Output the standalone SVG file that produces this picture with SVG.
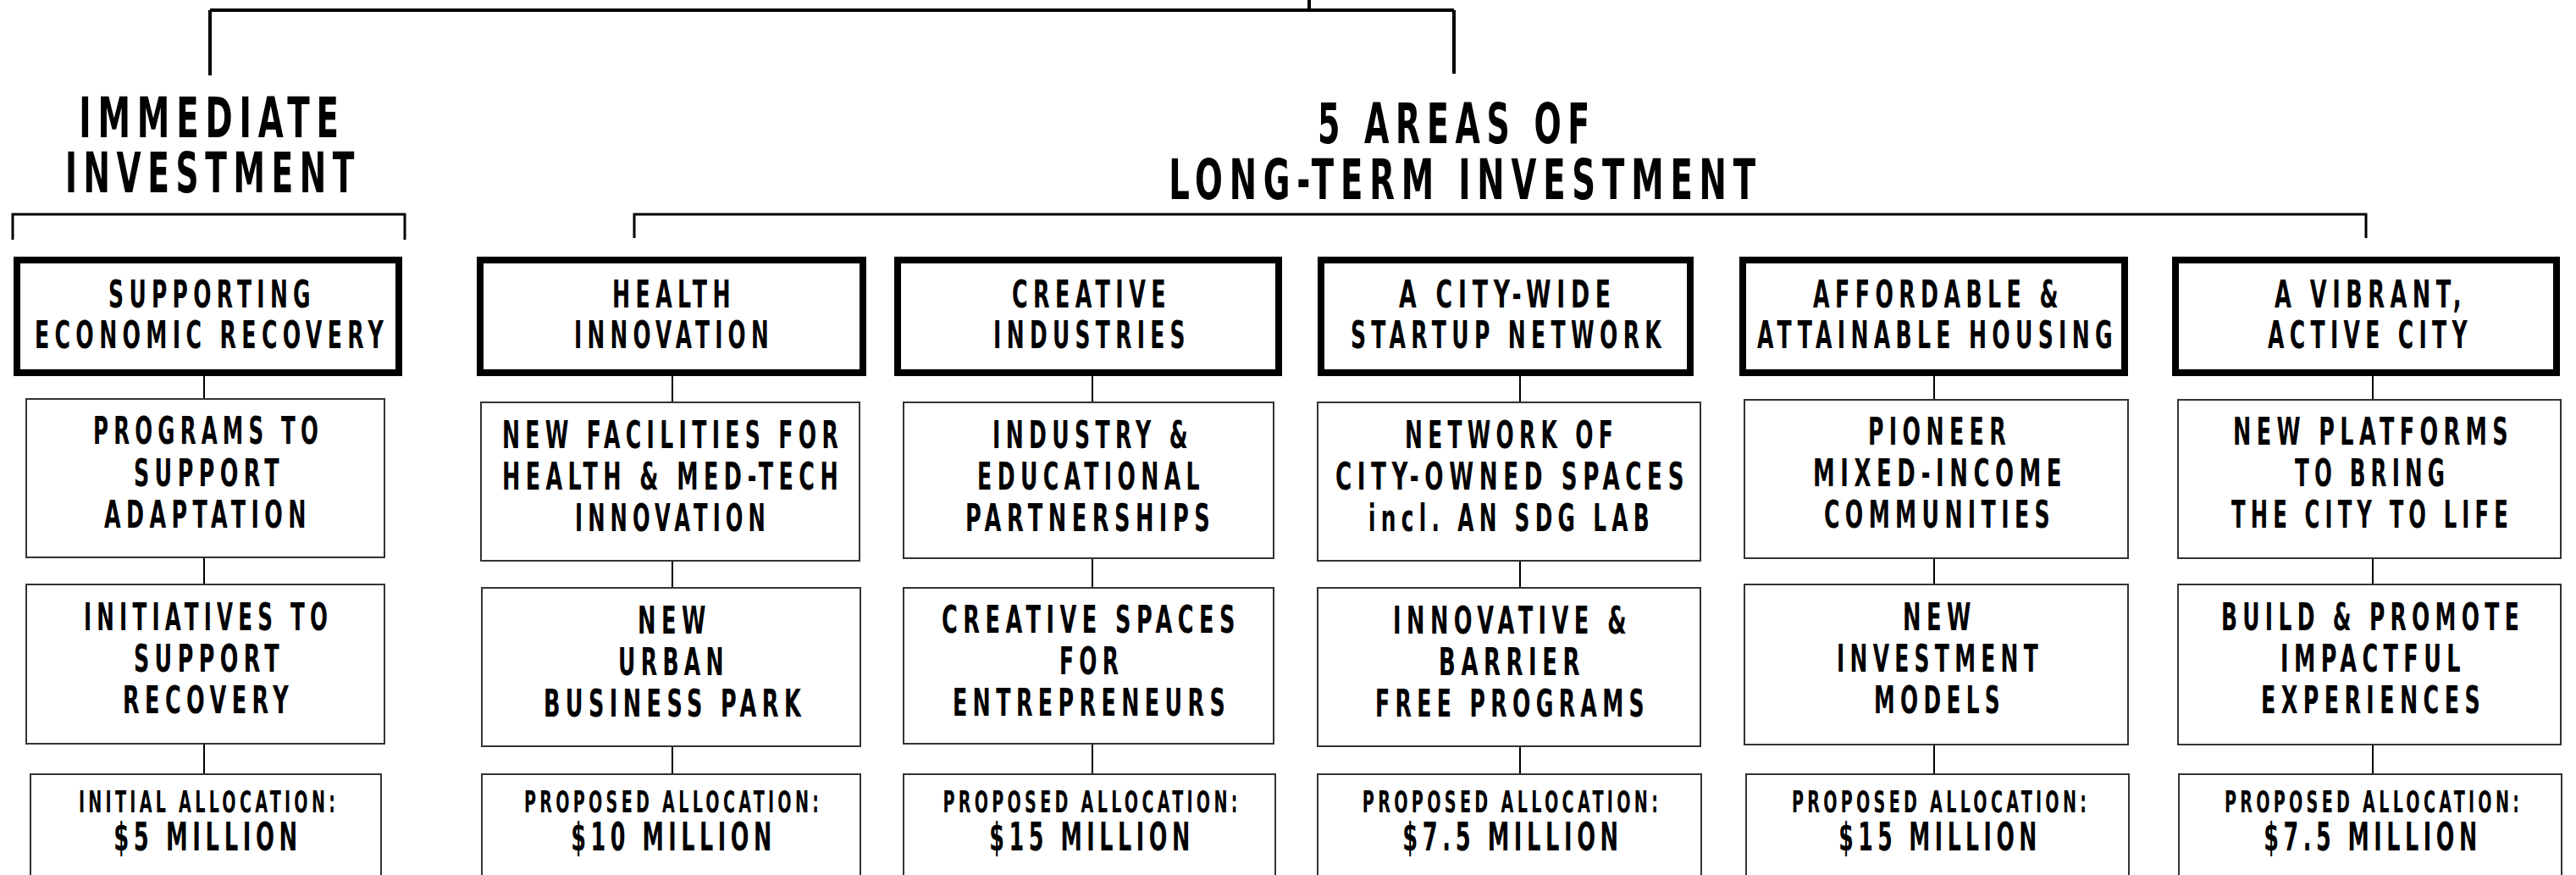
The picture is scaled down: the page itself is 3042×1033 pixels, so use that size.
<svg xmlns="http://www.w3.org/2000/svg" width="3042" height="1033" viewBox="0 0 3042 1033">
<style>
text{font-family:"DejaVu Sans Condensed","DejaVu Sans","Liberation Sans",sans-serif;font-weight:bold;fill:#000;text-anchor:middle}
.t{font-size:66px;letter-spacing:12px}
.h{font-size:44px;letter-spacing:10px}
.b{font-size:44px;letter-spacing:10px}
.s{font-size:35px;letter-spacing:7px}
.m{font-size:46px;letter-spacing:9px}
.hd{fill:#fff;stroke:#000;stroke-width:8}
.bx{fill:#fff;stroke:#333;stroke-width:2}
.ln{stroke:#000;stroke-width:2;fill:none}
.top{stroke:#000;stroke-width:4;fill:none}
.br{stroke:#000;stroke-width:3;fill:none}
</style>
<rect width="3042" height="1033" fill="#fff"/>
<g id="connectors">
<path class="top" d="M1546 0V12M248 12H1717M248 12V89M1717 12V87"/>
<path class="br" d="M15 283V253H478V283"/>
<path class="br" d="M749 281V253H2794V281"/>
<path class="ln" d="M241 444V471M241 658V690M241 878V914"/>
<path class="ln" d="M794 444V475M794 662V694M794 881V914"/>
<path class="ln" d="M1290 444V475M1290 659V694M1290 878V914"/>
<path class="ln" d="M1795 444V475M1795 662V694M1795 881V914"/>
<path class="ln" d="M2284 444V472M2284 659V690M2284 879V914"/>
<path class="ln" d="M2802 444V472M2802 659V690M2802 879V914"/>
</g>
<g id="title-immediate">
<text class="t" transform="translate(250.5 0) scale(.65 1)" y="162" textLength="484" lengthAdjust="spacingAndGlyphs">IMMEDIATE</text>
<text class="t" transform="translate(251.5 0) scale(.65 1)" y="227" textLength="537" lengthAdjust="spacingAndGlyphs">INVESTMENT</text>
</g>
<g id="title-longterm">
<text class="t" transform="translate(1720.5 0) scale(.65 1)" y="169" textLength="506" lengthAdjust="spacingAndGlyphs">5 AREAS OF</text>
<text class="t" transform="translate(1730.5 0) scale(.65 1)" y="235" textLength="1078" lengthAdjust="spacingAndGlyphs">LONG-TERM INVESTMENT</text>
</g>
<g id="col1-head">
<rect class="hd" x="20" y="307" width="451" height="133"/>
<text class="h" transform="translate(250.5 0) scale(.6 1)" y="363" textLength="408" lengthAdjust="spacingAndGlyphs">SUPPORTING</text>
<text class="h" transform="translate(250 0) scale(.6 1)" y="411" textLength="697" lengthAdjust="spacingAndGlyphs">ECONOMIC RECOVERY</text>
</g>
<g id="col2-head">
<rect class="hd" x="567" y="307" width="452" height="133"/>
<text class="h" transform="translate(796 0) scale(.6 1)" y="363" textLength="243" lengthAdjust="spacingAndGlyphs">HEALTH</text>
<text class="h" transform="translate(796 0) scale(.6 1)" y="411" textLength="393" lengthAdjust="spacingAndGlyphs">INNOVATION</text>
</g>
<g id="col3-head">
<rect class="hd" x="1060" y="307" width="450" height="133"/>
<text class="h" transform="translate(1289 0) scale(.6 1)" y="363" textLength="313" lengthAdjust="spacingAndGlyphs">CREATIVE</text>
<text class="h" transform="translate(1289.5 0) scale(.6 1)" y="411" textLength="388" lengthAdjust="spacingAndGlyphs">INDUSTRIES</text>
</g>
<g id="col4-head">
<rect class="hd" x="1560" y="307" width="436" height="133"/>
<text class="h" transform="translate(1780.5 0) scale(.6 1)" y="363" textLength="428" lengthAdjust="spacingAndGlyphs">A CITY-WIDE</text>
<text class="h" transform="translate(1781.5 0) scale(.6 1)" y="411" textLength="622" lengthAdjust="spacingAndGlyphs">STARTUP NETWORK</text>
</g>
<g id="col5-head">
<rect class="hd" x="2058" y="307" width="451" height="133"/>
<text class="h" transform="translate(2289 0) scale(.6 1)" y="363" textLength="493" lengthAdjust="spacingAndGlyphs">AFFORDABLE &amp;</text>
<text class="h" transform="translate(2288 0) scale(.6 1)" y="411" textLength="710" lengthAdjust="spacingAndGlyphs">ATTAINABLE HOUSING</text>
</g>
<g id="col6-head">
<rect class="hd" x="2569" y="307" width="450" height="133"/>
<text class="h" transform="translate(2799.5 0) scale(.6 1)" y="363" textLength="378" lengthAdjust="spacingAndGlyphs">A VIBRANT,</text>
<text class="h" transform="translate(2799 0) scale(.6 1)" y="411" textLength="403" lengthAdjust="spacingAndGlyphs">ACTIVE CITY</text>
</g>
<g id="col1-r2">
<rect class="bx" x="31" y="471" width="423" height="187"/>
<text class="b" transform="translate(246 0) scale(.6 1)" y="524" textLength="453" lengthAdjust="spacingAndGlyphs">PROGRAMS TO</text>
<text class="b" transform="translate(247 0) scale(.6 1)" y="574" textLength="297" lengthAdjust="spacingAndGlyphs">SUPPORT</text>
<text class="b" transform="translate(245.5 0) scale(.6 1)" y="623" textLength="408" lengthAdjust="spacingAndGlyphs">ADAPTATION</text>
</g>
<g id="col1-r3">
<rect class="bx" x="31" y="690" width="423" height="188"/>
<text class="b" transform="translate(246 0) scale(.6 1)" y="744" textLength="490" lengthAdjust="spacingAndGlyphs">INITIATIVES TO</text>
<text class="b" transform="translate(247 0) scale(.6 1)" y="793" textLength="297" lengthAdjust="spacingAndGlyphs">SUPPORT</text>
<text class="b" transform="translate(246 0) scale(.6 1)" y="842" textLength="337" lengthAdjust="spacingAndGlyphs">RECOVERY</text>
</g>
<g id="col1-r4">
<rect class="bx" x="36" y="914" width="414" height="140"/>
<text class="s" transform="translate(246.5 0) scale(.6 1)" y="959" textLength="512" lengthAdjust="spacingAndGlyphs">INITIAL ALLOCATION:</text>
<text class="m" transform="translate(245.5 0) scale(.6 1)" y="1004" textLength="371" lengthAdjust="spacingAndGlyphs">$5 MILLION</text>
</g>
<g id="col2-r2">
<rect class="bx" x="568" y="475" width="447" height="187"/>
<text class="b" transform="translate(794.5 0) scale(.6 1)" y="529" textLength="672" lengthAdjust="spacingAndGlyphs">NEW FACILITIES FOR</text>
<text class="b" transform="translate(794.5 0) scale(.6 1)" y="578" textLength="672" lengthAdjust="spacingAndGlyphs">HEALTH &amp; MED-TECH</text>
<text class="b" transform="translate(794.5 0) scale(.6 1)" y="627" textLength="385" lengthAdjust="spacingAndGlyphs">INNOVATION</text>
</g>
<g id="col2-r3">
<rect class="bx" x="569" y="694" width="447" height="187"/>
<text class="b" transform="translate(796.5 0) scale(.6 1)" y="748" textLength="145" lengthAdjust="spacingAndGlyphs">NEW</text>
<text class="b" transform="translate(795.5 0) scale(.6 1)" y="797" textLength="218" lengthAdjust="spacingAndGlyphs">URBAN</text>
<text class="b" transform="translate(797 0) scale(.6 1)" y="846" textLength="517" lengthAdjust="spacingAndGlyphs">BUSINESS PARK</text>
</g>
<g id="col2-r4">
<rect class="bx" x="569" y="914" width="447" height="140"/>
<text class="s" transform="translate(795 0) scale(.6 1)" y="959" textLength="587" lengthAdjust="spacingAndGlyphs">PROPOSED ALLOCATION:</text>
<text class="m" transform="translate(795.5 0) scale(.6 1)" y="1004" textLength="404" lengthAdjust="spacingAndGlyphs">$10 MILLION</text>
</g>
<g id="col3-r2">
<rect class="bx" x="1067" y="475" width="437" height="184"/>
<text class="b" transform="translate(1290.5 0) scale(.6 1)" y="529" textLength="395" lengthAdjust="spacingAndGlyphs">INDUSTRY &amp;</text>
<text class="b" transform="translate(1288.5 0) scale(.6 1)" y="578" textLength="448" lengthAdjust="spacingAndGlyphs">EDUCATIONAL</text>
<text class="b" transform="translate(1287.5 0) scale(.6 1)" y="627" textLength="492" lengthAdjust="spacingAndGlyphs">PARTNERSHIPS</text>
</g>
<g id="col3-r3">
<rect class="bx" x="1067" y="694" width="437" height="184"/>
<text class="b" transform="translate(1288.5 0) scale(.6 1)" y="747" textLength="588" lengthAdjust="spacingAndGlyphs">CREATIVE SPACES</text>
<text class="b" transform="translate(1289 0) scale(.6 1)" y="796" textLength="127" lengthAdjust="spacingAndGlyphs">FOR</text>
<text class="b" transform="translate(1289 0) scale(.6 1)" y="845" textLength="547" lengthAdjust="spacingAndGlyphs">ENTREPRENEURS</text>
</g>
<g id="col3-r4">
<rect class="bx" x="1067" y="914" width="439" height="140"/>
<text class="s" transform="translate(1289.5 0) scale(.6 1)" y="959" textLength="587" lengthAdjust="spacingAndGlyphs">PROPOSED ALLOCATION:</text>
<text class="m" transform="translate(1289.5 0) scale(.6 1)" y="1004" textLength="404" lengthAdjust="spacingAndGlyphs">$15 MILLION</text>
</g>
<g id="col4-r2">
<rect class="bx" x="1556" y="475" width="452" height="187"/>
<text class="b" transform="translate(1785 0) scale(.6 1)" y="529" textLength="420" lengthAdjust="spacingAndGlyphs">NETWORK OF</text>
<text class="b" transform="translate(1786 0) scale(.6 1)" y="578" textLength="697" lengthAdjust="spacingAndGlyphs">CITY-OWNED SPACES</text>
<text class="b" transform="translate(1785 0) scale(.6 1)" y="627" textLength="563" lengthAdjust="spacingAndGlyphs">incl. AN SDG LAB</text>
</g>
<g id="col4-r3">
<rect class="bx" x="1556" y="694" width="452" height="187"/>
<text class="b" transform="translate(1786 0) scale(.6 1)" y="748" textLength="470" lengthAdjust="spacingAndGlyphs">INNOVATIVE &amp;</text>
<text class="b" transform="translate(1785.5 0) scale(.6 1)" y="797" textLength="288" lengthAdjust="spacingAndGlyphs">BARRIER</text>
<text class="b" transform="translate(1786 0) scale(.6 1)" y="846" textLength="540" lengthAdjust="spacingAndGlyphs">FREE PROGRAMS</text>
</g>
<g id="col4-r4">
<rect class="bx" x="1556" y="914" width="453" height="140"/>
<text class="s" transform="translate(1785.5 0) scale(.6 1)" y="959" textLength="589" lengthAdjust="spacingAndGlyphs">PROPOSED ALLOCATION:</text>
<text class="m" transform="translate(1786.5 0) scale(.6 1)" y="1004" textLength="434" lengthAdjust="spacingAndGlyphs">$7.5 MILLION</text>
</g>
<g id="col5-r2">
<rect class="bx" x="2060" y="472" width="453" height="187"/>
<text class="b" transform="translate(2290.5 0) scale(.6 1)" y="525" textLength="282" lengthAdjust="spacingAndGlyphs">PIONEER</text>
<text class="b" transform="translate(2291 0) scale(.6 1)" y="574" textLength="500" lengthAdjust="spacingAndGlyphs">MIXED-INCOME</text>
<text class="b" transform="translate(2290.5 0) scale(.6 1)" y="623" textLength="455" lengthAdjust="spacingAndGlyphs">COMMUNITIES</text>
</g>
<g id="col5-r3">
<rect class="bx" x="2060" y="690" width="453" height="189"/>
<text class="b" transform="translate(2290.5 0) scale(.6 1)" y="744" textLength="145" lengthAdjust="spacingAndGlyphs">NEW</text>
<text class="b" transform="translate(2291 0) scale(.6 1)" y="793" textLength="407" lengthAdjust="spacingAndGlyphs">INVESTMENT</text>
<text class="b" transform="translate(2290.5 0) scale(.6 1)" y="842" textLength="258" lengthAdjust="spacingAndGlyphs">MODELS</text>
</g>
<g id="col5-r4">
<rect class="bx" x="2062" y="914" width="452" height="140"/>
<text class="s" transform="translate(2292 0) scale(.6 1)" y="959" textLength="587" lengthAdjust="spacingAndGlyphs">PROPOSED ALLOCATION:</text>
<text class="m" transform="translate(2291 0) scale(.6 1)" y="1004" textLength="399" lengthAdjust="spacingAndGlyphs">$15 MILLION</text>
</g>
<g id="col6-r2">
<rect class="bx" x="2572" y="472" width="452" height="187"/>
<text class="b" transform="translate(2802.5 0) scale(.6 1)" y="525" textLength="552" lengthAdjust="spacingAndGlyphs">NEW PLATFORMS</text>
<text class="b" transform="translate(2801.5 0) scale(.6 1)" y="574" textLength="305" lengthAdjust="spacingAndGlyphs">TO BRING</text>
<text class="b" transform="translate(2801.5 0) scale(.6 1)" y="623" textLength="555" lengthAdjust="spacingAndGlyphs">THE CITY TO LIFE</text>
</g>
<g id="col6-r3">
<rect class="bx" x="2572" y="690" width="452" height="189"/>
<text class="b" transform="translate(2802 0) scale(.6 1)" y="744" textLength="597" lengthAdjust="spacingAndGlyphs">BUILD &amp; PROMOTE</text>
<text class="b" transform="translate(2802.5 0) scale(.6 1)" y="793" textLength="365" lengthAdjust="spacingAndGlyphs">IMPACTFUL</text>
<text class="b" transform="translate(2802.5 0) scale(.6 1)" y="842" textLength="442" lengthAdjust="spacingAndGlyphs">EXPERIENCES</text>
</g>
<g id="col6-r4">
<rect class="bx" x="2573" y="914" width="452" height="140"/>
<text class="s" transform="translate(2803 0) scale(.6 1)" y="959" textLength="587" lengthAdjust="spacingAndGlyphs">PROPOSED ALLOCATION:</text>
<text class="m" transform="translate(2802 0) scale(.6 1)" y="1004" textLength="429" lengthAdjust="spacingAndGlyphs">$7.5 MILLION</text>
</g>
</svg>
